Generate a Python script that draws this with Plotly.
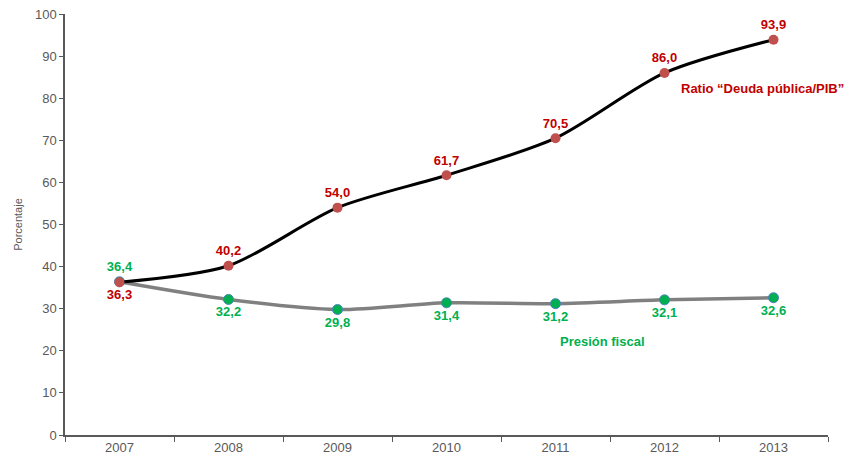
import plotly.graph_objects as go

years = ["2007", "2008", "2009", "2010", "2011", "2012", "2013"]
deuda_pib = [36.3, 40.2, 54.0, 61.7, 70.5, 86.0, 93.9]
presion_fiscal = [36.4, 32.2, 29.8, 31.4, 31.2, 32.1, 32.6]

def fmt(v):
    return f"{v:.1f}".replace(".", ",")

label_font = dict(size=13, family="Liberation Sans, Arial", weight="bold")

fig = go.Figure()

fig.add_trace(go.Scatter(
    x=years, y=presion_fiscal, mode="lines+markers+text",
    line=dict(color="#808080", width=3.5, shape="spline", smoothing=0.8),
    marker=dict(size=10, color="#00b050", line=dict(color="#4f81bd", width=1)),
    text=[fmt(v) for v in presion_fiscal],
    textposition=["top center"] + ["bottom center"] * 6,
    textfont=dict(color="#00b050", **label_font),
    cliponaxis=False, showlegend=False,
))

fig.add_trace(go.Scatter(
    x=years, y=deuda_pib, mode="lines+markers+text",
    line=dict(color="#000000", width=3, shape="spline", smoothing=0.8),
    marker=dict(size=10, color="#c0504d"),
    text=[fmt(v) for v in deuda_pib],
    textposition=["bottom center"] + ["top center"] * 6,
    textfont=dict(color="#c00000", **label_font),
    cliponaxis=False, showlegend=False,
))

fig.add_annotation(x=5.9, y=82.4, text="Ratio “Deuda pública/PIB”", showarrow=False,
                   font=dict(color="#c00000", **label_font))
fig.add_annotation(x=4.43, y=22.1, text="Presión fiscal", showarrow=False,
                   font=dict(color="#00b050", **label_font))

fig.update_layout(
    width=851, height=464,
    margin=dict(l=65, r=23, t=14, b=29, autoexpand=False),
    plot_bgcolor="white", paper_bgcolor="white",
    font=dict(family="Liberation Sans, Arial", size=13, color="#595959"),
    xaxis=dict(
        type="category", range=[-0.5, 6.5], showgrid=False, automargin=False,
        showline=True, linecolor="#595959", linewidth=1.5,
        ticks="outside", tickson="boundaries", ticklen=5, tickcolor="#595959",
    ),
    yaxis=dict(
        range=[0, 100], dtick=10, showgrid=False, automargin=False,
        showline=True, linecolor="#595959", linewidth=1.5,
        ticks="outside", ticklen=4, tickcolor="#595959",
        ticklabeloverflow="allow",
        title=dict(text="Porcentaje", font=dict(size=11, color="#595959"), standoff=10),
    ),
)

# the page's default body margin would push the chart 8px off the window
fig.write_html("out.html", config={"displayModeBar": False},
               post_script="document.body.style.margin='0';")
